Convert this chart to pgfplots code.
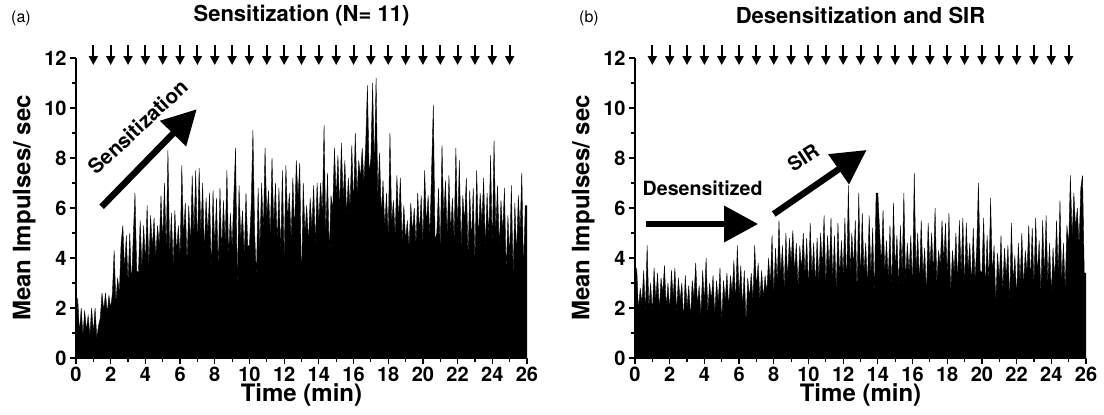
\documentclass[border=0pt]{standalone}
\usepackage{fontspec}
\setmainfont{TeX Gyre Heros}
\usepackage{pgfplots}
\pgfplotsset{compat=1.18}
\usepackage{pgfplotstable}
\usetikzlibrary{arrows.meta}

% mean impulses/sec, one value every 0.1 min (one line per minute)
\pgfplotstableread[row sep=\\, header=false]{
0.8\\2.4\\1.0\\2.0\\0.9\\1.9\\1.1\\1.7\\0.9\\2.0\\
1.0\\2.0\\0.8\\1.3\\1.6\\2.6\\1.9\\2.6\\1.8\\2.5\\
2.0\\2.6\\4.3\\2.2\\3.2\\2.6\\4.6\\5.3\\3.5\\4.9\\
3.0\\5.0\\2.9\\4.8\\6.6\\3.5\\3.4\\5.5\\3.6\\5.3\\
3.8\\6.1\\3.7\\5.7\\4.4\\5.6\\4.0\\5.3\\4.5\\6.5\\
4.6\\7.0\\4.3\\8.3\\4.0\\5.8\\3.7\\5.9\\4.2\\5.3\\
4.0\\7.7\\4.8\\6.2\\3.8\\6.1\\4.5\\7.3\\4.9\\7.5\\
4.4\\7.6\\5.0\\7.0\\4.2\\6.4\\4.9\\6.6\\3.4\\6.7\\
4.4\\6.4\\3.5\\6.8\\4.2\\6.3\\4.6\\7.5\\4.0\\5.8\\
4.4\\6.5\\8.4\\2.7\\6.9\\4.7\\5.9\\4.0\\6.6\\4.5\\
4.5\\6.1\\9.1\\5.0\\3.2\\6.8\\4.3\\7.0\\5.0\\8.4\\
5.6\\6.7\\4.8\\8.0\\5.3\\7.0\\4.6\\6.8\\4.2\\7.5\\
3.9\\7.7\\5.5\\6.6\\4.7\\7.2\\5.0\\7.9\\6.4\\7.8\\
2.8\\7.0\\5.0\\6.1\\4.6\\6.4\\5.2\\6.9\\4.5\\7.0\\
5.4\\7.0\\5.7\\9.3\\4.9\\7.4\\4.1\\6.5\\5.9\\8.4\\
6.4\\8.1\\5.9\\8.6\\6.3\\7.9\\5.7\\7.2\\6.0\\8.5\\
6.0\\9.0\\6.5\\7.9\\7.2\\8.4\\7.0\\8.5\\10.9\\7.4\\
8.0\\11.0\\7.5\\11.2\\6.5\\8.2\\5.7\\7.1\\5.2\\6.6\\
4.8\\9.0\\5.4\\6.3\\4.9\\7.3\\5.5\\7.2\\4.6\\6.1\\
4.7\\5.5\\4.4\\6.2\\5.0\\6.0\\4.5\\6.6\\5.0\\6.5\\
4.6\\7.5\\5.3\\6.5\\4.8\\7.5\\10.1\\4.7\\5.0\\6.8\\
4.2\\8.5\\5.6\\7.1\\4.8\\7.3\\5.0\\6.4\\4.7\\8.4\\
5.0\\7.9\\4.4\\6.5\\5.4\\7.2\\4.0\\6.7\\4.6\\6.8\\
3.8\\7.5\\4.7\\6.6\\5.4\\7.2\\4.4\\6.6\\4.8\\8.1\\
4.3\\8.7\\5.0\\6.9\\4.4\\6.3\\5.0\\6.8\\3.4\\5.7\\
4.0\\6.9\\3.3\\6.2\\4.1\\6.5\\5.0\\7.4\\3.5\\6.1\\
6.1\\
}\sensdata

\pgfplotstableread[row sep=\\, header=false]{
2.5\\3.6\\1.9\\2.8\\2.2\\3.5\\1.8\\4.5\\2.0\\3.0\\
1.8\\3.6\\2.3\\3.4\\1.9\\3.2\\2.6\\3.7\\2.0\\3.0\\
1.9\\3.5\\2.4\\3.6\\1.8\\3.2\\2.3\\3.0\\1.5\\3.3\\
2.0\\2.9\\1.6\\3.1\\2.4\\3.8\\2.1\\2.9\\1.7\\3.5\\
2.2\\4.0\\1.8\\3.0\\2.3\\3.3\\1.7\\3.1\\2.2\\3.6\\
1.4\\3.1\\2.3\\3.4\\2.0\\3.3\\2.6\\3.9\\2.2\\4.5\\
2.5\\3.7\\2.0\\3.5\\1.4\\3.2\\2.4\\3.4\\2.3\\4.5\\
2.8\\3.8\\2.3\\3.5\\2.4\\3.3\\2.6\\4.0\\2.9\\4.9\\
2.5\\4.4\\3.0\\5.5\\3.3\\4.5\\2.7\\5.0\\3.1\\4.8\\
3.8\\5.1\\3.4\\4.6\\2.8\\4.5\\3.5\\5.0\\3.3\\4.8\\
2.7\\5.4\\3.3\\4.6\\2.9\\4.8\\3.1\\5.0\\3.6\\5.7\\
2.9\\4.9\\3.5\\5.6\\3.1\\4.9\\2.6\\5.4\\3.2\\4.7\\
3.3\\5.6\\2.8\\6.9\\3.4\\5.0\\3.6\\5.5\\2.6\\6.6\\
3.0\\5.8\\3.4\\4.6\\2.8\\5.7\\3.3\\5.2\\2.5\\6.6\\
6.6\\5.1\\3.7\\5.9\\3.4\\4.7\\3.1\\5.3\\2.7\\6.2\\
3.5\\4.9\\2.8\\5.3\\3.4\\6.6\\3.0\\4.6\\3.4\\4.9\\
2.7\\7.4\\3.4\\5.0\\2.9\\5.5\\3.3\\4.4\\2.5\\5.4\\
3.6\\5.0\\3.3\\6.0\\3.0\\4.3\\3.7\\5.5\\3.8\\5.4\\
3.2\\5.8\\2.5\\4.3\\3.4\\5.0\\3.0\\5.5\\3.4\\5.6\\
2.8\\5.4\\3.5\\4.6\\2.9\\5.2\\3.1\\4.4\\7.0\\3.5\\
3.4\\5.6\\2.7\\4.9\\3.0\\6.4\\3.3\\4.5\\2.2\\4.2\\
3.1\\4.9\\2.6\\4.4\\3.2\\4.5\\2.2\\5.4\\3.0\\4.1\\
2.4\\4.6\\3.0\\5.0\\2.8\\4.3\\3.4\\5.3\\3.0\\5.2\\
2.9\\5.6\\3.3\\4.7\\2.6\\5.5\\3.2\\5.7\\3.0\\4.6\\
2.5\\4.4\\3.1\\5.5\\3.3\\6.3\\3.0\\4.6\\2.7\\5.3\\
4.5\\7.3\\4.8\\6.6\\5.2\\6.0\\4.5\\6.8\\7.3\\3.4\\
3.4\\
}\desensdata

\tikzset{
  stim/.style={-{Triangle[width=4.5pt,length=4.5pt]}, line width=1pt},
  big/.style={line width=3.2pt, -{Triangle[width=17.5pt,length=17pt]}},
  lab/.style={font=\bfseries\fontsize{12}{14}\selectfont, anchor=center, inner sep=1pt},
  ttl/.style={font=\bfseries\fontsize{11}{13}\selectfont, anchor=center, inner sep=1pt},
}

\pgfplotsset{
  panel/.style={
    scale only axis, width=225.5pt, height=150pt,
    xmin=0, xmax=26, ymin=0, ymax=12,
    axis x line*=bottom, axis y line*=left,
    tick align=outside,
    xtick={0,2,...,26}, minor xtick={1,3,...,25},
    ytick={0,2,...,12}, minor ytick={1,3,...,11},
    major tick length=3pt, minor tick length=2pt,
    tick style={black, line width=0.6pt},
    axis line style={line width=0.7pt},
    /pgf/number format/assume math mode=true,
    ticklabel style={font=\bfseries\fontsize{10}{12}\selectfont, inner sep=1.5pt},
    clip=false,
  },
}

\begin{document}
\begin{tikzpicture}
\path[use as bounding box] (0,0) rectangle (552pt,207pt);

\begin{axis}[panel, at={(38pt,28pt)}, anchor=south west]
\addplot[fill=black, draw=black, line width=0.2pt]
  table[x expr=\coordindex/10, y index=0] {\sensdata} \closedcycle;
\pgfplotsinvokeforeach{1,...,25}{
  \draw[stim] (axis cs:#1,12.52) -- (axis cs:#1,11.72);
}
\draw[big] (axis cs:1.48,6.05) -- (axis cs:6.96,9.95);
\node[rotate=43, font=\bfseries\fontsize{10.3}{12}\selectfont]
  at (axis cs:3.57,9.24) {Sensitization};
\node[ttl] at (axis description cs:0.5,1.143) {Sensitization (N= 11)};
\node[lab] at (axis description cs:0.5,-0.123) {Time (min)};
\node[lab, rotate=90] at (axis description cs:-0.115,0.5) {Mean Impulses/ sec};
\node[font=\fontsize{8}{10}\selectfont] at (axis description cs:-0.122,1.133) {(a)};
\end{axis}

\begin{axis}[panel, at={(317.5pt,28pt)}, anchor=south west]
\addplot[fill=black, draw=black, line width=0.2pt]
  table[x expr=\coordindex/10, y index=0] {\desensdata} \closedcycle;
\pgfplotsinvokeforeach{1,...,25}{
  \draw[stim] (axis cs:#1,12.52) -- (axis cs:#1,11.72);
}
\draw[big] (axis cs:0.63,5.36) -- (axis cs:7.1,5.36);
\draw[big] (axis cs:8.0,5.76) -- (axis cs:13.35,8.32);
\node[font=\bfseries\fontsize{9.8}{12}\selectfont] at (axis cs:3.9,6.8) {Desensitized};
\node[rotate=33, font=\bfseries\fontsize{9.8}{12}\selectfont] at (axis cs:9.7,8.0) {SIR};
\node[ttl] at (axis description cs:0.5,1.143) {Desensitization and SIR};
\node[lab] at (axis description cs:0.5,-0.123) {Time (min)};
\node[lab, rotate=90] at (axis description cs:-0.115,0.5) {Mean Impulses/ sec};
\node[font=\fontsize{8}{10}\selectfont] at (axis description cs:-0.102,1.133) {(b)};
\end{axis}
\end{tikzpicture}
\end{document}
